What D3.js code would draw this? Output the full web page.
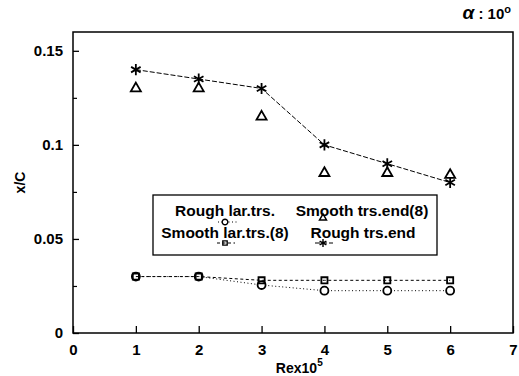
<!DOCTYPE html>
<html>
<head>
<meta charset="utf-8">
<script src="https://cdn.jsdelivr.net/npm/d3@7"></script>
<style>
  html, body { margin: 0; padding: 0; background: #fff; }
  svg { display: block; }
  text { font-family: "Liberation Sans", Arial, sans-serif; fill: #000; }
</style>
</head>
<body>
<svg id="chart" width="519" height="376"></svg>
<script>
// Reynolds number (x 10^5)
const reValues = [1, 2, 3, 4, 5, 6];

// Transition positions x/C for each configuration
const roughTrsEnd    = [0.140, 0.135, 0.130, 0.100, 0.090, 0.080];
const smoothTrsEnd   = [0.130, 0.130, 0.115, 0.085, 0.085, 0.084];
const roughLamTrs    = [0.030, 0.030, 0.0255, 0.0225, 0.0225, 0.0225];
const smoothLamTrs   = [0.030, 0.030, 0.028, 0.028, 0.028, 0.028];

const xTicks = [0, 1, 2, 3, 4, 5, 6, 7];
const yTicks = [0, 0.05, 0.1, 0.15];
const yMinorTicks = [0.025, 0.075, 0.125];
const yTickLabels = ["0", "0.05", "0.1", "0.15"];

const svg = d3.select("#chart");
const plotL = 73, plotR = 513, plotT = 32, plotB = 333;

const x = d3.scaleLinear().domain([0, 7]).range([plotL, plotR]);
const y = d3.scaleLinear().domain([0, 0.16]).range([plotB, plotT]);

// Frame
svg.append("rect")
  .attr("x", plotL).attr("y", plotT)
  .attr("width", plotR - plotL).attr("height", plotB - plotT)
  .attr("fill", "none").attr("stroke", "#000").attr("stroke-width", 1.5);

// Left axis, ticks pointing inward
const yAxis = d3.axisRight(y).tickValues(yTicks)
  .tickSize(6).tickFormat((d, i) => yTickLabels[i]);
const gy = svg.append("g").attr("transform", `translate(${plotL},0)`).call(yAxis);
gy.select(".domain").remove();
gy.selectAll("line").attr("stroke", "#000").attr("stroke-width", 1.3);
gy.selectAll("text")
  .attr("x", -10).attr("text-anchor", "end")
  .style("font-size", "15px").style("font-weight", "bold");

const gyMinor = svg.append("g").attr("transform", `translate(${plotL},0)`)
  .call(d3.axisRight(y).tickValues(yMinorTicks).tickSize(4).tickFormat(""));
gyMinor.select(".domain").remove();
gyMinor.selectAll("line").attr("stroke", "#000").attr("stroke-width", 1.2);

// Bottom axis, ticks pointing inward
const xAxis = d3.axisTop(x).tickValues(xTicks).tickSize(7).tickFormat(d3.format("d"));
const gx = svg.append("g").attr("transform", `translate(0,${plotB})`).call(xAxis);
gx.select(".domain").remove();
gx.selectAll("line").attr("stroke", "#000").attr("stroke-width", 1.3);
gx.selectAll("text")
  .attr("y", 22).attr("dy", 0)
  .style("font-size", "15px").style("font-weight", "bold");

// Axis titles
const xl = svg.append("text")
  .attr("x", x(3.6)).attr("y", 373)
  .attr("text-anchor", "middle")
  .style("font-size", "14px").style("font-weight", "bold");
xl.append("tspan").text("Rex10");
xl.append("tspan").attr("dy", -7).style("font-size", "10px").text("5");

svg.append("text")
  .attr("transform", `translate(25,${(plotT + plotB) / 2}) rotate(-90)`)
  .attr("text-anchor", "middle")
  .style("font-size", "14px").style("font-weight", "bold")
  .text("x/C");

// Angle of attack annotation
const al = svg.append("text")
  .attr("x", 511).attr("y", 19)
  .attr("text-anchor", "end")
  .style("font-size", "15px").style("font-weight", "bold");
al.append("tspan").style("font-style", "italic").style("font-size", "19px").text("α");
al.append("tspan").text(" : 10");
al.append("tspan").attr("dy", -6).style("font-size", "11px").text("o");

// Series definitions
const series = [
  { name: "Rough lar.trs.",     values: roughLamTrs,  symbol: d3.symbolCircle,    size: 50, dash: "1,2.5" },
  { name: "Smooth lar.trs.(8)", values: smoothLamTrs, symbol: d3.symbolSquare2,   size: 48, dash: "3,2.5" },
  { name: "Smooth trs.end(8)",  values: smoothTrsEnd, symbol: d3.symbolTriangle2, size: 72, dash: null },
  { name: "Rough trs.end",      values: roughTrsEnd,  symbol: d3.symbolAsterisk,  size: 85, dash: "5,2" }
];

const line = d3.line().x((d, i) => x(reValues[i])).y(d => y(d));

series.forEach(s => {
  if (s.dash) {
    svg.append("path")
      .attr("d", line(s.values))
      .attr("fill", "none").attr("stroke", "#000")
      .attr("stroke-width", 1).attr("stroke-dasharray", s.dash);
  }
  svg.append("g").selectAll("path")
    .data(s.values).join("path")
    .attr("transform", (d, i) => `translate(${x(reValues[i])},${y(d)})`)
    .attr("d", d3.symbol(s.symbol, s.size))
    .attr("fill", s.symbol === d3.symbolCircle ? "#fff" : "none")
    .attr("stroke", "#000").attr("stroke-width", 1.8);
});

// Legend
const lg = svg.append("g");
lg.append("rect")
  .attr("x", 153).attr("y", 195).attr("width", 284).attr("height", 60)
  .attr("fill", "#fff").attr("stroke", "#000").attr("stroke-width", 1.3);

const legendItems = [
  { s: series[0], tx: 225, ty: 216, mx: 225, my: 222, lx0: 218, lx1: 238 },
  { s: series[1], tx: 225, ty: 238, mx: 225, my: 243, lx0: 217, lx1: 235 },
  { s: series[2], tx: 362, ty: 216, mx: 323, my: 218, lx0: 0,   lx1: 0 },
  { s: series[3], tx: 363, ty: 238, mx: 323, my: 243, lx0: 315, lx1: 333 }
];

legendItems.forEach(it => {
  lg.append("text")
    .attr("x", it.tx).attr("y", it.ty)
    .attr("text-anchor", "middle")
    .style("font-size", "15.5px").style("font-weight", "bold")
    .text(it.s.name);
  if (it.s.dash) {
    lg.append("line")
      .attr("x1", it.lx0).attr("x2", it.lx1)
      .attr("y1", it.my).attr("y2", it.my)
      .attr("stroke", "#000").attr("stroke-width", 1)
      .attr("stroke-dasharray", it.s.dash);
  }
  lg.append("path")
    .attr("transform", `translate(${it.mx},${it.my})`)
    .attr("d", d3.symbol(it.s.symbol, it.s.size * 0.5))
    .attr("fill", it.s.symbol === d3.symbolCircle ? "#fff" : "none")
    .attr("stroke", "#000").attr("stroke-width", 1.4);
});
</script>
</body>
</html>
